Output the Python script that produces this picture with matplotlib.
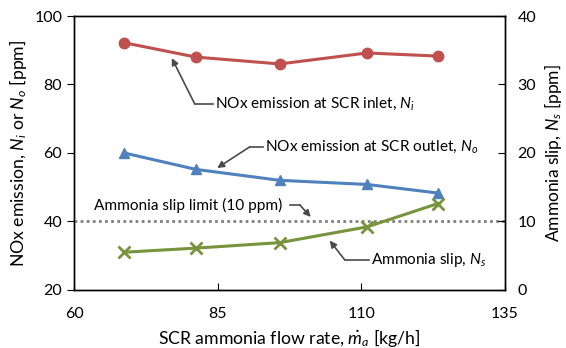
import matplotlib
matplotlib.use("Agg")
import matplotlib.pyplot as plt

plt.rcParams["font.family"] = ["Lato", "DejaVu Sans"]
plt.rcParams["mathtext.fontset"] = "custom"
plt.rcParams["mathtext.rm"] = "Lato"
plt.rcParams["mathtext.it"] = "Lato:italic"

# ── Data ───────────────────────────────────────────────────────────────────────
flow_rate = [68.7, 81.2, 95.8, 111.0, 123.3]       # kg/h
nox_inlet = [92.2, 88.0, 86.0, 89.2, 88.3]         # ppm
nox_outlet = [60.0, 55.2, 52.0, 50.8, 48.3]        # ppm
nh3_slip = [5.5, 6.1, 6.9, 9.2, 12.6]              # ppm
slip_limit = 10

x_ticks = [60, 85, 110, 135]
left_ticks = [20, 40, 60, 80, 100]
right_ticks = [0, 10, 20, 30, 40]

RED = "#C0504D"
BLUE = "#4F81BD"
GREEN = "#77933C"
ANN = "#4a4a4a"

fig = plt.figure(figsize=(5.66, 3.48), dpi=100)
ax = fig.add_axes([0.131, 0.167, 0.761, 0.787])
ax2 = ax.twinx()

ax.plot(flow_rate, nox_inlet, color=RED, lw=2.2, marker="o", ms=7.5, zorder=3)
ax.plot(flow_rate, nox_outlet, color=BLUE, lw=2.2, marker="^", ms=7.5, zorder=3)
ax2.axhline(slip_limit, color="#808080", lw=2, linestyle=(0, (1, 1.2)), zorder=1)
ax2.plot(flow_rate, nh3_slip, color=GREEN, lw=2.2, marker="x", ms=8, mew=2, zorder=3)

ax.set_xlim(60, 135)
ax.set_ylim(20, 100)
ax2.set_ylim(0, 40)
ax.set_xticks(x_ticks)
ax.set_yticks(left_ticks)
ax2.set_yticks(right_ticks)

ax.tick_params(axis="x", direction="in", length=5, labelsize=11.5, pad=12)
ax.tick_params(axis="y", direction="out", length=5, labelsize=11.5)
ax2.tick_params(axis="y", direction="in", length=5, labelsize=11.5, pad=9)
for a in (ax, ax2):
    for s in a.spines.values():
        s.set_linewidth(1.0)

ax.set_xlabel(r"SCR ammonia flow rate, $\dot{m}_a$ [kg/h]", fontsize=12.7, labelpad=5)
ax.set_ylabel(r"NOx emission, $N_i$ or $N_o$ [ppm]", fontsize=12.7, labelpad=4)
ax2.set_ylabel(r"Ammonia slip, $N_s$ [ppm]", fontsize=12.5, labelpad=4)


# ── Annotations (elbow leader lines) ─────────────────────────────────────────
def leader(axis, text, tip, elbow, text_x):
    axis.plot([elbow[0], text_x - 0.3], [elbow[1], elbow[1]], color=ANN, lw=1.2)
    axis.annotate("", xy=tip, xytext=elbow,
                  arrowprops=dict(arrowstyle="-|>", color=ANN, lw=1.2,
                                  shrinkA=0, shrinkB=0, mutation_scale=10))
    axis.text(text_x, elbow[1], text, va="center", ha="left", fontsize=11.1)


leader(ax, r"NOx emission at SCR inlet, $N_i$", (77.0, 87.7), (81.0, 74.3), 84.5)
leader(ax, r"NOx emission at SCR outlet, $N_o$", (84.9, 55.6), (90.6, 61.8), 93.2)
leader(ax2, r"Ammonia slip, $N_s$", (104.5, 7.2), (107.1, 4.4), 111.7)

# slip-limit label: text first, leader to the right
ax.text(63.5, 44.8, "Ammonia slip limit (10 ppm)", va="center", ha="left", fontsize=11.1)
ax.plot([97.5, 99.3], [44.8, 44.8], color=ANN, lw=1.2)
ax.annotate("", xy=(101.2, 41.3), xytext=(99.3, 44.8),
            arrowprops=dict(arrowstyle="-|>", color=ANN, lw=1.2,
                            shrinkA=0, shrinkB=0, mutation_scale=10))

fig.savefig("out.png", dpi=100, facecolor="white")
